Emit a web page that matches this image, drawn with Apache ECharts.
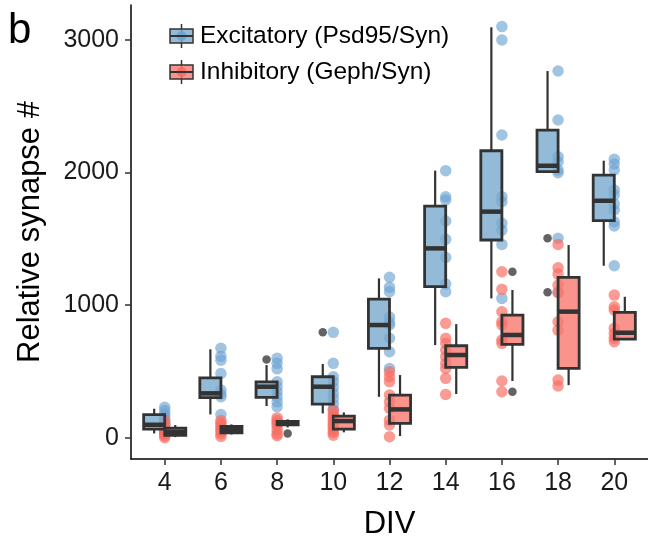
<!DOCTYPE html>
<html><head><meta charset="utf-8">
<script src="https://cdn.jsdelivr.net/npm/echarts@6/dist/echarts.min.js"></script>
<style>html,body{margin:0;padding:0;background:#fff}#c{width:648px;height:537px}</style>
</head><body><div id="c"></div>
<script>
// ---- data ----
const divs = [4, 6, 8, 10, 12, 14, 16, 18, 20];
// [lowWhisker, q1, median, q3, highWhisker]
const excStats = [
  [33, 65, 98, 174, 219],
  [176, 302, 335, 452, 667],
  [239, 305, 385, 422, 548],
  [184, 254, 385, 460, 556],
  [309, 674, 850, 1046, 1202],
  [699, 1139, 1428, 1747, 2014],
  [1051, 1491, 1705, 2164, 3095],
  [1998, 2006, 2051, 2320, 2765],
  [1297, 1637, 1787, 1981, 2089]
];
const inhStats = [
  [5, 18, 45, 73, 96],
  [25, 38, 58, 85, 101],
  [78, 98, 111, 124, 139],
  [41, 66, 126, 164, 191],
  [13, 108, 214, 322, 473],
  [330, 531, 624, 694, 857],
  [428, 704, 775, 925, 1114],
  [397, 523, 951, 1210, 1453],
  [737, 744, 792, 946, 1063]
];
const excOutliers = [[8, 591], [10, 795], [18, 1504], [18, 1097]];
const inhOutliers = [[8, 33], [16, 1252], [16, 347]];
const excPoints = [
  [230, 205, 180, 160, 130, 110, 95, 70, 50, 35],
  [675, 615, 585, 485, 360, 330, 310, 175],
  [599, 561, 520, 422, 384, 347, 309, 271, 234],
  [795, 561, 460, 422, 380, 335, 297, 254, 210],
  [1210, 1134, 1101, 910, 870, 850, 750, 649, 523],
  [2014, 1817, 1793, 1634, 1496, 1360, 1159, 1101],
  [3100, 2999, 2283, 1818, 1780, 1617, 1566, 1458, 1051],
  [2765, 2396, 2119, 2081, 2019, 1998, 1504, 1097],
  [2100, 2064, 2019, 1868, 1830, 1762, 1717, 1629, 1597, 1297]
];
const inhPoints = [
  [130, 100, 80, 60, 45, 30, 15, 0],
  [130, 110, 90, 70, 50, 30, 10],
  [150, 130, 110, 90, 60, 30, 15],
  [210, 180, 160, 140, 120, 100, 80, 60, 40, 20],
  [498, 460, 422, 322, 271, 222, 133, 96, 8],
  [863, 750, 712, 661, 611, 561, 523, 448, 327],
  [1252, 1119, 950, 875, 850, 737, 712, 428, 347],
  [1458, 1282, 1234, 1152, 1094, 875, 812, 435, 390],
  [1076, 988, 963, 825, 787, 750, 724]
];
const yTicks = [0, 1000, 2000, 3000];
const excName = 'Excitatory (Psd95/Syn)';
const inhName = 'Inhibitory (Geph/Syn)';

// ---- style ----
const BOX_W = 0.75;           // width of one dodged box, in DIV units
const FONT = '"Liberation Sans", Arial, Helvetica, sans-serif';
const DARK = '#333333';
const excFill = 'rgba(120,170,205,0.8)';
const inhFill = 'rgba(248,120,110,0.8)';
const excPt = 'rgba(108,163,210,0.8)';
const inhPt = 'rgba(248,108,98,0.85)';

function boxSeries(name, stats, side, fill) {
  return {
    type: 'custom', name: name, z: 5,
    data: stats.map((s, i) => [divs[i]].concat(s)),
    encode: { x: 0, y: [1, 2, 3, 4, 5] },
    renderItem: function (params, api) {
      const x = api.value(0);
      const w = api.size([BOX_W, 0])[0];
      const cx = api.coord([x, 0])[0];
      const x0 = side < 0 ? cx - w : cx;
      const xm = x0 + w / 2;
      const yl = api.coord([x, api.value(1)])[1];
      const y1 = api.coord([x, api.value(2)])[1];
      const ym = api.coord([x, api.value(3)])[1];
      const y3 = api.coord([x, api.value(4)])[1];
      const yh = api.coord([x, api.value(5)])[1];
      return {
        type: 'group', children: [
          { type: 'line', shape: { x1: xm, y1: yh, x2: xm, y2: y3 }, style: { stroke: DARK, lineWidth: 2.2 } },
          { type: 'line', shape: { x1: xm, y1: y1, x2: xm, y2: yl }, style: { stroke: DARK, lineWidth: 2.2 } },
          { type: 'rect', shape: { x: x0, y: y3, width: w, height: y1 - y3 }, style: { fill: fill, stroke: DARK, lineWidth: 2.8 } },
          { type: 'line', shape: { x1: x0, y1: ym, x2: x0 + w, y2: ym }, style: { stroke: DARK, lineWidth: 4.5 } }
        ]
      };
    }
  };
}

function flatPoints(arr) {
  const out = [];
  arr.forEach((vals, i) => vals.forEach(v => out.push([divs[i], v])));
  return out;
}

function legendGlyph(cy, fill, pt) {
  return [
    { type: 'line', shape: { x1: 181.5, y1: cy - 12, x2: 181.5, y2: cy + 12 }, style: { stroke: DARK, lineWidth: 1.5 } },
    { type: 'rect', shape: { x: 170, y: cy - 7, width: 23, height: 14 }, style: { fill: fill, stroke: DARK, lineWidth: 1.5 } },
    { type: 'circle', shape: { cx: 181.5, cy: cy, r: 5 }, style: { fill: pt } },
    { type: 'line', shape: { x1: 170, y1: cy, x2: 193, y2: cy }, style: { stroke: DARK, lineWidth: 2 } }
  ];
}

const chart = echarts.init(document.getElementById('c'), null, { renderer: 'canvas' });
chart.setOption({
  animation: false,
  backgroundColor: '#fff',
  grid: { left: 131, right: 0, top: 5, bottom: 78, containLabel: false, outerBoundsMode: 'none' },
  xAxis: {
    type: 'value', min: 2.8, max: 21.2,
    name: 'DIV', nameLocation: 'middle', nameGap: 50,
    nameTextStyle: { fontFamily: FONT, fontSize: 31, color: '#000' },
    axisLine: { show: true, onZero: false, lineStyle: { color: '#000', width: 1.5 } },
    axisTick: { show: true, length: 6, customValues: divs, lineStyle: { color: DARK, width: 1.5 } },
    axisLabel: { customValues: divs, margin: 12, fontFamily: FONT, fontSize: 25, color: '#1a1a1a' },
    splitLine: { show: false }
  },
  yAxis: {
    type: 'value', min: -160, max: 3263,
    name: 'Relative synapse #', nameLocation: 'middle', nameGap: 85, nameRotate: 90,
    nameTextStyle: { fontFamily: FONT, fontSize: 31, color: '#000' },
    axisLine: { show: true, onZero: false, lineStyle: { color: '#000', width: 1.5 } },
    axisTick: { show: true, length: 6, customValues: yTicks, lineStyle: { color: DARK, width: 1.5 } },
    axisLabel: { customValues: yTicks, margin: 12, fontFamily: FONT, fontSize: 25, color: '#1a1a1a',
      formatter: v => String(v) },
    splitLine: { show: false }
  },
  graphic: [
    { type: 'text', left: 8, top: 10, style: { text: 'b', font: '42px ' + FONT, fill: '#000' } },
    { type: 'group', children: legendGlyph(36, excFill, excPt).concat(legendGlyph(72, inhFill, inhPt)) },
    { type: 'text', x: 200, y: 36, style: { text: excName, font: '24.5px ' + FONT, fill: '#000', verticalAlign: 'middle' } },
    { type: 'text', x: 200, y: 72, style: { text: inhName, font: '24.5px ' + FONT, fill: '#000', verticalAlign: 'middle' } }
  ],
  series: [
    { type: 'scatter', name: excName + ' points', z: 2, symbolSize: 11.5, data: flatPoints(excPoints), itemStyle: { color: excPt } },
    { type: 'scatter', name: inhName + ' points', z: 2, symbolSize: 11.5, data: flatPoints(inhPoints), itemStyle: { color: inhPt } },
    boxSeries(excName, excStats, -1, excFill),
    boxSeries(inhName, inhStats, 1, inhFill),
    { type: 'scatter', name: 'outliers exc', z: 6, symbolSize: 8.5, itemStyle: { color: '#3c3c3c' },
      data: excOutliers.map(p => [p[0] - BOX_W / 2, p[1]]) },
    { type: 'scatter', name: 'outliers inh', z: 6, symbolSize: 8.5, itemStyle: { color: '#3c3c3c' },
      data: inhOutliers.map(p => [p[0] + BOX_W / 2, p[1]]) }
  ]
});
</script>
</body></html>
